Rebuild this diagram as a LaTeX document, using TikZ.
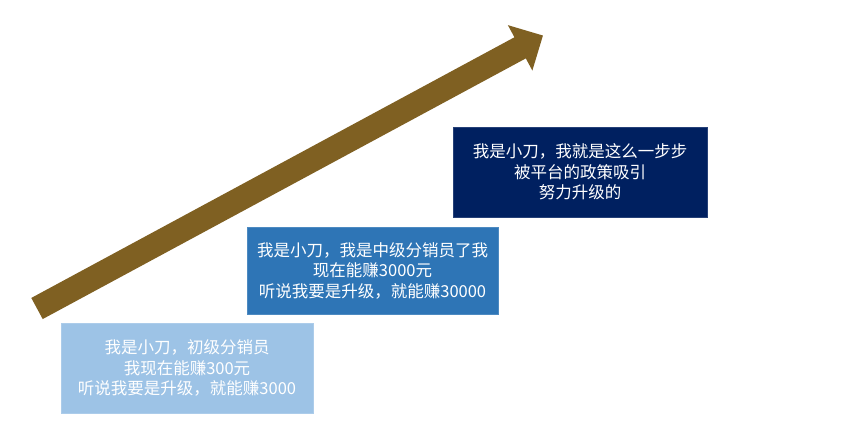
\documentclass[tikz,border=0pt]{standalone}
\usepackage{fontspec}
\newfontfamily\cjk{Noto Sans CJK SC}
\usetikzlibrary{arrows.meta}
\definecolor{arrowbrown}{HTML}{7F6022}
\definecolor{lightblue}{HTML}{9DC3E6}
\definecolor{midblue}{HTML}{2E75B6}
\definecolor{navy}{HTML}{002060}
\begin{document}
\begin{tikzpicture}[x=1pt,y=1pt,
  stagebox/.style={fill=#1, draw=#1!85!white, line width=0.6pt, text=white,
    align=center, inner sep=0pt,
    font=\cjk\fontsize{16.5}{20.5}\selectfont}]
  \useasboundingbox (0,0) rectangle (865,440);
  % Rising arrow
  \coordinate (tail) at (37,131.5);
  \coordinate (tip) at (543,404.5);
  \draw[arrowbrown, line width=24pt, -{Triangle[width=50pt,length=26pt]}] (tail) -- (tip);
  % Stages
  \node[stagebox=lightblue, minimum width=252pt, minimum height=90pt] (box1) at (187,72)
    {我是小刀，初级分销员\\我现在能赚300元\\听说我要是升级，就能赚3000};
  \node[stagebox=midblue, minimum width=251pt, minimum height=87pt] (box2) at (372.5,169.5)
    {我是小刀，我是中级分销员了我\\现在能赚3000元\\听说我要是升级，就能赚30000};
  \node[stagebox=navy, minimum width=254pt, minimum height=90pt] (box3) at (580,268)
    {我是小刀，我就是这么一步步\\被平台的政策吸引\\努力升级的};
\end{tikzpicture}
\end{document}
